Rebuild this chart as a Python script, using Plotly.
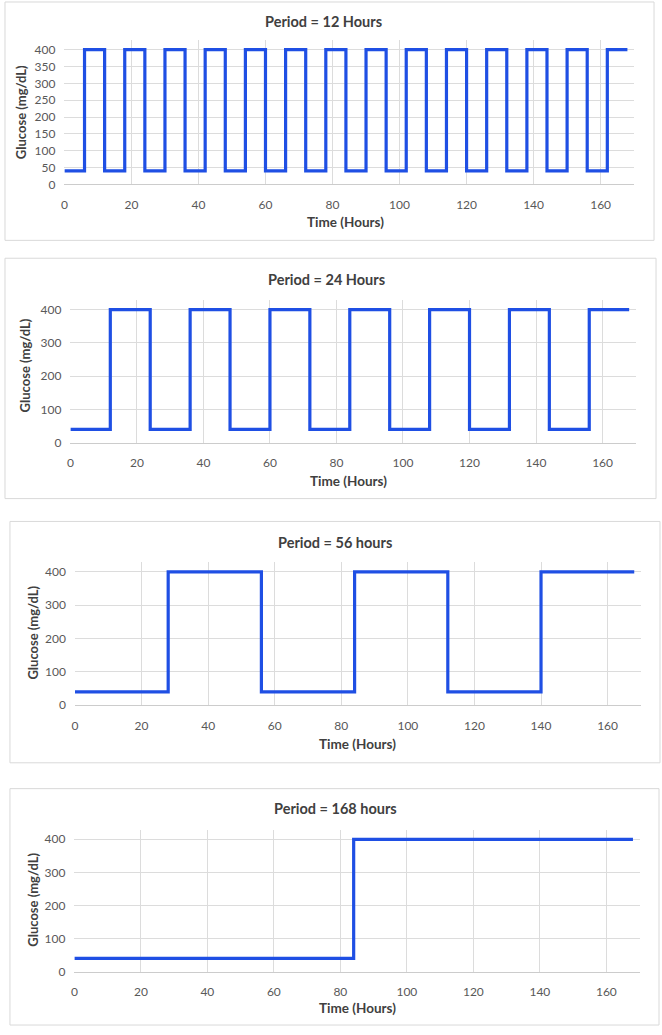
import plotly.graph_objects as go

W, H = 662, 1035

# ---------------- data ----------------
titles = ["Period = 12 Hours", "Period = 24 Hours", "Period = 56 hours", "Period = 168 hours"]
x_title = "Time (Hours)"
y_title = "Glucose (mg/dL)"

time_p12 = [0, 6, 12, 18, 24, 30, 36, 42, 48, 54, 60, 66, 72, 78, 84, 90, 96, 102,
            108, 114, 120, 126, 132, 138, 144, 150, 156, 162, 168]
glucose_p12 = [40, 400, 40, 400, 40, 400, 40, 400, 40, 400, 40, 400, 40, 400, 40,
               400, 40, 400, 40, 400, 40, 400, 40, 400, 40, 400, 40, 400, 400]

time_p24 = [0, 12, 24, 36, 48, 60, 72, 84, 96, 108, 120, 132, 144, 156, 168]
glucose_p24 = [40, 400, 40, 400, 40, 400, 40, 400, 40, 400, 40, 400, 40, 400, 400]

time_p56 = [0, 28, 56, 84, 112, 140, 168]
glucose_p56 = [40, 400, 40, 400, 40, 400, 400]

time_p168 = [0, 84, 168]
glucose_p168 = [40, 400, 400]

x_ticks = [0, 20, 40, 60, 80, 100, 120, 140, 160]
y_ticks_fine = [0, 50, 100, 150, 200, 250, 300, 350, 400]
y_ticks_coarse = [0, 100, 200, 300, 400]

series = [
    (time_p12, glucose_p12, y_ticks_fine),
    (time_p24, glucose_p24, y_ticks_coarse),
    (time_p56, glucose_p56, y_ticks_coarse),
    (time_p168, glucose_p168, y_ticks_coarse),
]

# ---------------- layout geometry (pixels) ----------------
panels = [
    dict(x0=61.7, x170=634.0, y0=185.7, y400=50.0, box=(2, 2, 654, 242),
         title=(322, 22), xt=(344, 224), yt=(18, 113)),
    dict(x0=67.7, x170=635.7, y0=445.7, y400=311.7, box=(2, 260, 656, 502),
         title=(325, 281), xt=(347, 484), yt=(22, 368)),
    dict(x0=72.3, x170=640.8, y0=710.0, y400=575.7, box=(7, 525, 660, 768),
         title=(334, 546), xt=(356, 749), yt=(30, 637)),
    dict(x0=71.7, x170=639.5, y0=978.3, y400=845.0, box=(7, 794, 659, 1032),
         title=(334, 814), xt=(356, 1015), yt=(30, 906)),
]

LINE_COLOR = "#1f4fe4"
GRID = "#dcdcdc"
TICK_COLOR = "#595959"
TITLE_COLOR = "#404040"
FONT = "Lato"
X_MAX = 170
Y_MAX = 428

def px(x):
    return x / W

def py(y):
    return 1 - y / H

fig = go.Figure()
layout = dict(
    width=W, height=H,
    margin=dict(l=0, r=0, t=0, b=0),
    paper_bgcolor="white", plot_bgcolor="white",
    showlegend=False,
    font=dict(family=FONT, color=TICK_COLOR, size=11),
)
annotations = []
shapes = []

for i, ((xs, ys, yt), p) in enumerate(zip(series, panels)):
    n = "" if i == 0 else str(i + 1)
    xa, ya = "x" + n, "y" + n
    fig.add_trace(go.Scatter(
        x=xs, y=ys, mode="lines", line=dict(color=LINE_COLOR, width=3.2, shape="hv"),
        xaxis=xa, yaxis=ya, hoverinfo="skip"))
    unit = (p["y0"] - p["y400"]) / 400
    top = p["y0"] - Y_MAX * unit
    layout["xaxis" + n] = dict(
        domain=[px(p["x0"]), px(p["x170"])], anchor=ya, range=[0, X_MAX],
        tickvals=x_ticks, showgrid=True, gridcolor=GRID, gridwidth=1,
        zeroline=False, showline=True, linecolor="#cccccc", linewidth=1,
        ticks="", ticklabelstandoff=9, tickfont=dict(size=12, color=TICK_COLOR, family=FONT),
        fixedrange=True)
    layout["yaxis" + n] = dict(
        domain=[py(p["y0"]), py(top)], anchor=xa, range=[0, Y_MAX],
        tickvals=yt, showgrid=True, gridcolor=GRID, gridwidth=1,
        zeroline=False, showline=False,
        ticks="", ticklabelstandoff=8, tickfont=dict(size=12, color=TICK_COLOR, family=FONT),
        fixedrange=True)
    bx0, by0, bx1, by1 = p["box"]
    shapes.append(dict(type="rect", xref="paper", yref="paper",
                       x0=px(bx0), x1=px(bx1), y0=py(by1), y1=py(by0),
                       line=dict(color="#d9d9d9", width=1), layer="below"))
    annotations.append(dict(text="<b>%s</b>" % titles[i], xref="paper", yref="paper",
                            x=px(p["title"][0]), y=py(p["title"][1]),
                            xanchor="center", yanchor="middle", showarrow=False,
                            font=dict(family=FONT, size=14.5, color=TITLE_COLOR)))
    annotations.append(dict(text="<b>%s</b>" % x_title, xref="paper", yref="paper",
                            x=px(p["xt"][0]), y=py(p["xt"][1]),
                            xanchor="center", yanchor="middle", showarrow=False,
                            font=dict(family=FONT, size=13.5, color=TITLE_COLOR)))
    annotations.append(dict(text="<b>%s</b>" % y_title, xref="paper", yref="paper",
                            x=px(p["yt"][0]), y=py(p["yt"][1]), textangle=-90,
                            xanchor="center", yanchor="middle", showarrow=False,
                            font=dict(family=FONT, size=13, color=TITLE_COLOR)))

layout["annotations"] = annotations
layout["shapes"] = shapes
fig.update_layout(**layout)

css_fix = (
    "var s=document.createElement('style');"
    "s.textContent='html,body{margin:0;padding:0;overflow:hidden;height:%dpx;width:%dpx;}"
    "body>div{height:%dpx;overflow:hidden;}';"
    "document.head.appendChild(s);" % (H, W, H)
)
fig.write_html(
    "out.html",
    config={"displayModeBar": False},
    post_script=css_fix,
)
